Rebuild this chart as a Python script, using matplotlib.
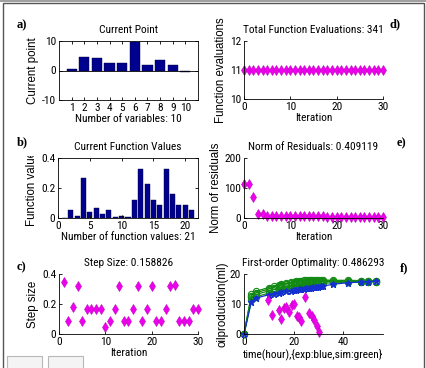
import matplotlib
matplotlib.use("Agg")
import matplotlib.pyplot as plt
from matplotlib import font_manager
from matplotlib.patches import Rectangle
from matplotlib.transforms import Bbox

W, H = 427, 368

names = {f.name for f in font_manager.fontManager.ttflist}
narrow = 'Liberation Sans'
for cand in ['Liberation Sans Narrow', 'Arial Narrow', 'Roboto Condensed', 'Archivo Narrow']:
    if cand in names:
        narrow = cand
        break
plt.rcParams['font.family'] = [narrow, 'DejaVu Sans']
plt.rcParams['axes.unicode_minus'] = False

# a) current point
var_idx = list(range(1, 11))
cur_point = [0.4, 4.5, 4.2, 2.7, 2.4, 9.6, 1.7, 3.5, 2.0, -0.6]

# b) current function values
fun_idx = list(range(1, 22))
fun_vals = [0.0, 0.052, 0.011, 0.265, 0.043, 0.067, 0.03, 0.056, 0.004, 0.011, 0.004,
            0.117, 0.324, 0.225, 0.117, 0.085, 0.33, 0.162, 0.085, 0.09, 0.056]

# c) step size
step_iter = list(range(1, 31))
step_size = [0.347, 0.089, 0.178, 0.318, 0.084, 0.167, 0.167, 0.167, 0.167, 0.048,
             0.084, 0.167, 0.318, 0.084, 0.084, 0.167, 0.318, 0.084, 0.167, 0.318,
             0.084, 0.084, 0.167, 0.318, 0.325, 0.084, 0.084, 0.084, 0.167, 0.167]

# d) function evaluations
iters = list(range(0, 31))
fevals = [11] * 31

# e) norm of residuals
resnorm = [114, 114, 70, 14, 12, 8, 7.5, 7.3, 7.2, 7.0, 6.8, 6.5, 6.2, 6.0, 5.8, 5.6,
           5.4, 5.2, 5.0, 4.8, 4.6, 4.4, 4.2, 4.0, 3.8, 3.6, 3.4, 3.2, 3.0, 2.8, 2.6]

# f) oil production, experiment vs simulations
t_hour = [0, 3, 5, 10, 12, 14, 15, 17, 19, 20, 21, 22, 23, 24, 25, 26, 27, 28, 29,
          30, 31, 32, 36, 42, 47, 50, 53]
oil_exp = [0, 10.8, 12, 13.1, 13.4, 13.8, 14, 14.3, 14.5, 14.6, 14.8, 14.9, 15, 15.1,
           15.3, 15.4, 15.5, 15.6, 15.7, 15.8, 15.9, 16, 16.6, 17.1, 17.3, 17.5, 17.6]
oil_sim1 = [0, 13.3, 14.3, 15.5, 16, 16.5, 16.8, 17, 17.3, 17.5, 17.6, 17.7, 17.8, 17.9,
            18, 18, 18, 18, 18, 18, 18, 18, 17.9, 17.9, 17.8, 17.8, 17.7]
oil_sim2 = [0, 12.8, 13.8, 15, 15.5, 16, 16.3, 16.6, 16.9, 17.1, 17.2, 17.3, 17.4, 17.5,
            17.6, 17.7, 17.7, 17.7, 17.8, 17.8, 17.8, 17.8, 17.7, 17.7, 17.7, 17.6, 17.6]
oil_sim3 = [0, 12.2, 13.2, 14.4, 14.9, 15.4, 15.7, 16, 16.3, 16.5, 16.6, 16.8, 16.9, 17,
            17.1, 17.2, 17.3, 17.3, 17.4, 17.4, 17.5, 17.5, 17.5, 17.5, 17.5, 17.5, 17.5]
oil_sim4 = [0, 11.5, 12.5, 13.6, 14.1, 14.5, 14.8, 15.1, 15.4, 15.6, 15.8, 15.9, 16.0,
            16.1, 16.2, 16.3, 16.4, 16.5, 16.6, 16.7, 16.8, 16.9, 17.1, 17.3, 17.4, 17.5, 17.5]
res_t = [9.6, 11.1, 14, 14.9, 16.3, 17.1, 18, 19.3, 20, 21.3, 22.3, 23.1, 24.7, 26.3,
         27.3, 28.1, 29.3, 30.3]
res_v = [11.2, 6.4, 8, 5.1, 8.7, 9, 7.2, 9.8, 10, 6.1, 5.6, 4.2, 12.3, 7, 5.9, 4.8, 2.6, 0.7]

NAVY = '#00008f'
MAG = '#ee00ee'
GREEN = '#138a13'
BLUE = '#1530d0'
FS = 8.2


def ax_rect(l, r, t, b):
    return [l / W, (H - b) / H, (r - l) / W, (b - t) / H]


def style(ax, box=False):
    for s in ax.spines.values():
        s.set_linewidth(0.6)
    if not box:
        ax.spines['top'].set_visible(False)
        ax.spines['right'].set_visible(False)
    ax.tick_params(direction='in', length=2, width=0.6, labelsize=FS, pad=2,
                   top=box, right=box)


def ylab(ax, txt, pad=2):
    return ax.set_ylabel(txt, family='Liberation Sans', fontsize=8.3, labelpad=pad)


def diamonds(ax, x, y):
    ax.plot(x, y, 'd', color=MAG, ms=5.5, mec='#c000c0', mew=0.4, clip_on=False)


fig = plt.figure(figsize=(W / 100, H / 100), dpi=100)
fig.patch.set_facecolor('white')

# a
ax = fig.add_axes(ax_rect(59, 198, 41, 100))
ax.bar(var_idx, cur_point, width=0.8, color=NAVY, edgecolor='#000040', linewidth=0.3)
ax.axhline(0, color='black', lw=0.6)
ax.set_xlim(0, 11)
ax.set_ylim(-10, 10)
ax.set_xticks(var_idx)
ax.set_yticks([-10, 0, 10])
style(ax, box=True)
ax.set_title('Current Point', fontsize=FS, pad=6)
ax.set_xlabel('Number of variables: 10', fontsize=FS, labelpad=1)
ylab(ax, 'Current point')

# b
ax = fig.add_axes(ax_rect(58, 198, 158, 218))
ax.bar(fun_idx, fun_vals, width=0.8, color=NAVY, edgecolor='#000040', linewidth=0.3)
ax.set_xlim(0, 22)
ax.set_ylim(0, 0.4)
ax.set_xticks([0, 5, 10, 15, 20])
ax.set_yticks([0, 0.2, 0.4])
ax.set_yticklabels(['0', '0.2', '0.4'])
style(ax, box=True)
ax.set_title('Current Function Values', fontsize=FS, pad=6)
ax.set_xlabel('Number of function values: 21', fontsize=FS, labelpad=1)
lb = ylab(ax, 'Function value')
# the label is cut off at its end in the original window
lb.set_clip_box(Bbox([[0, 0], [W, H - 156]]))
lb.set_clip_on(True)

# c
ax = fig.add_axes(ax_rect(59, 198, 274, 334))
diamonds(ax, step_iter, step_size)
ax.set_xlim(0, 30)
ax.set_ylim(0, 0.4)
ax.set_xticks([0, 10, 20, 30])
ax.set_yticks([0, 0.2, 0.4])
ax.set_yticklabels(['0', '0.2', '0.4'])
style(ax)
ax.set_title('Step Size: 0.158826', fontsize=FS, pad=6)
ax.set_xlabel('Iteration', fontsize=FS, labelpad=1)
ylab(ax, 'Step size')

# d
ax = fig.add_axes(ax_rect(244, 383, 41, 99))
diamonds(ax, iters, fevals)
ax.set_xlim(0, 30)
ax.set_ylim(10, 12)
ax.set_xticks([0, 10, 20, 30])
ax.set_yticks([10, 11, 12])
style(ax)
ax.set_title('Total Function Evaluations: 341', fontsize=FS, pad=6)
ax.set_xlabel('Iteration', fontsize=FS, labelpad=1)
ylab(ax, 'Function evaluations')

# e
ax = fig.add_axes(ax_rect(244, 383, 158, 218))
diamonds(ax, iters, resnorm)
ax.set_xlim(0, 30)
ax.set_ylim(0, 200)
ax.set_xticks([0, 10, 20, 30])
ax.set_yticks([0, 100, 200])
style(ax)
ax.set_title('Norm of Residuals: 0.409119', fontsize=FS, pad=6)
ax.set_xlabel('Iteration', fontsize=FS, labelpad=1)
ylab(ax, 'Norm of residuals')

# f
ax = fig.add_axes(ax_rect(244, 383, 274, 334))
for sim in (oil_sim4, oil_sim3, oil_sim2, oil_sim1):
    ax.plot(t_hour, sim, '-o', color=GREEN, mfc='none', ms=4.5, lw=0.9, mew=0.8,
            clip_on=False)
ax.plot(t_hour, oil_exp, '-*', color=BLUE, ms=4.5, lw=0.9, clip_on=False)
diamonds(ax, res_t, res_v)
ax.set_xlim(0, 56)
ax.set_ylim(0, 20)
ax.set_xticks([0, 20, 40])
ax.set_yticks([0, 10, 20])
style(ax)
ax.set_title('First-order Optimality: 0.486293', fontsize=FS, pad=6)
ax.set_xlabel('time(hour),{exp:blue,sim:green}', fontsize=FS, labelpad=1)
ylab(ax, 'oilproduction(ml)', pad=1)

# panel letters
for lab, x, y in [('a)', 17, 25), ('b)', 17, 142), ('c)', 17, 267),
                  ('d)', 390, 24), ('e)', 397, 143), ('f)', 400, 268)]:
    fig.text(x / W, 1 - y / H, lab, family='Liberation Serif', fontweight='bold',
             fontsize=9, va='center', ha='left')

# window frame and buttons
fig.patches.append(Rectangle((0, 1 - 2 / H), 1, 2 / H, transform=fig.transFigure,
                             facecolor='#a0a0a0', edgecolor='none'))
fig.patches.append(Rectangle((3 / W, -0.05), 421 / W, 1 - 3 / H + 0.05,
                             transform=fig.transFigure, facecolor='none',
                             edgecolor='#555555', lw=1))
for bx in (7, 48):
    fig.patches.append(Rectangle((bx / W, -0.05), 35 / W, 12 / H + 0.05,
                                 transform=fig.transFigure, facecolor='#f4f4f4',
                                 edgecolor='#b8b8b8', lw=0.8))

fig.savefig('out.png', dpi=100)
